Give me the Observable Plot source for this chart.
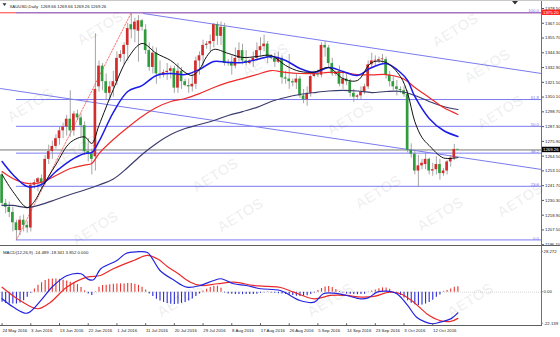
<!DOCTYPE html>
<html><head><meta charset="utf-8">
<script src="https://cdn.jsdelivr.net/npm/d3@7"></script>
<script src="https://cdn.jsdelivr.net/npm/@observablehq/plot@0.6"></script>
<style>
body{margin:0;background:#fff}
#wrap{position:relative;width:560px;height:337px;overflow:hidden;background:#fff;font-family:"Liberation Sans",Arial,sans-serif}
#wrap svg{position:absolute;left:0}
.ln{position:absolute;background:#707070}
</style></head><body><div id="wrap"></div>
<script>
// ---------- DATA ----------
const open = [1250,1228,1225,1221,1213,1207,1215,1211,1209,1242, 1244,1247,1244,1262,1268,1272,1278,1284,1287,1293,
 1284,1297,1294,1288,1268,1266,1264,1318,1334,1322, 1313,1318,1322,1340,1343,1350,1366,1362,1361,1369,
 1362,1346,1333,1344,1328,1327,1329,1330,1332,1317, 1330,1322,1319,1318,1320,1338,1342,1350,1351,1353,
 1366,1357,1364,1336,1337,1334,1340,1346,1338,1336, 1338,1340,1346,1349,1351,1341,1340,1337,1340,1325,
 1324,1322,1321,1324,1311,1308,1313,1326,1328,1327, 1350,1348,1336,1328,1330,1320,1324,1322,1313,1310,
 1311,1314,1318,1335,1338,1338,1339,1339,1327,1322, 1318,1316,1315,1312,1269,1266,1253,1257,1258,1262,
 1253,1254,1258,1251,1253,1260,1263,1269.66];
const high = [1252,1231,1229,1225,1215,1218,1219,1214,1244,1246, 1248,1250,1265,1273,1276,1281,1287,1290,1296,1315,
 1299,1300,1297,1291,1278,1270,1359,1338,1336,1328, 1322,1330,1345,1346,1352,1367,1375.2,1371,1373,1370,
 1366,1352,1349,1348,1338,1331,1336,1334,1334,1336, 1333,1324,1324,1328,1341,1345,1354,1353,1358,1367,
 1368,1368,1367,1339,1342,1348,1352,1351,1346,1339, 1345,1352,1356,1358,1353,1343,1344,1345,1342,1330,
 1343,1324,1328,1326,1316,1318,1328,1330,1331,1352, 1353,1350,1340,1330,1334,1330,1328,1324,1316,1312,
 1318,1320,1338,1344,1342,1341,1343,1341,1330,1326, 1323,1318,1318,1315,1274,1269,1265,1262,1267,1263,
 1259,1264,1262,1255,1261,1265,1273.5,1269.66];
const low = [1226,1220,1217,1206,1199.8,1203,1206,1205,1206,1239, 1237,1239,1242,1258,1262,1270,1273,1278,1280,1279,
 1280,1292,1279,1265,1260,1250,1253,1314,1315,1308, 1307,1310,1319,1337,1335,1338,1355,1352,1337,1361,
 1343,1330,1328,1320,1324,1325,1323,1324,1313,1313, 1316,1318,1313,1314,1316,1327,1332,1347,1345,1348,
 1350,1350,1334,1334,1327,1332,1337,1335,1334,1335, 1333,1338,1341,1345,1336,1339,1333,1336,1320,1320,
 1316,1318,1316,1309,1305,1303,1310,1325,1325,1325, 1341,1333,1326,1326,1318,1316,1319,1310,1306,1308,
 1308,1312,1316,1332,1334,1336,1335,1324,1318,1315, 1311,1313,1310,1267,1263,1250,1240.5,1254,1254,1250,
 1249,1250,1246,1249,1250,1256,1261,1269.26];
const close = [1228,1225,1221,1213,1207,1215,1211,1209,1242,1244, 1247,1244,1262,1268,1272,1278,1284,1287,1293,1284,
 1297,1294,1288,1268,1266,1262,1316,1334,1322,1313, 1318,1322,1340,1343,1350,1363,1362,1368,1369,1364,
 1346,1333,1344,1328,1327,1329,1330,1332,1317,1330, 1322,1319,1318,1320,1338,1342,1350,1351,1353,1366,
 1357,1364,1336,1337,1334,1340,1346,1338,1336,1338, 1340,1346,1349,1351,1341,1340,1337,1340,1325,1324,
 1322,1321,1324,1311,1308,1313,1326,1328,1327,1350, 1348,1336,1328,1328,1320,1324,1322,1313,1310,1311,
 1314,1318,1335,1338,1338.5,1339,1339.5,1327,1322,1318, 1316,1315,1312,1269,1266,1253,1257,1259,1262,1253,
 1254,1258,1251,1253,1260,1263,1269.66,1269.26];

// moving averages (bar index, price)
const maFastIdx = [1,4,8,10,12,16,20,24,26,28,32,36,40,44,48,52,54,56,58,60,64,68,72,76,80,84,88,92,96,100,104,108,112,114,116,118,120,124,128];
const maFast = [1250.3,1237.2,1224.8,1229.5,1239.5,1258.0,1275.0,1279.3,1274.3,1288.2,1316.0,1339.9,1351.5,1343.8,1338.3,1329.1,1326.8,1331.4,1341.4,1346.9,1343.8,1340.7,1341.4,1342.2,1334.5,1329.9,1329.5,1332.9,1324.4,1322.9,1336.8,1336.8,1325.9,1312.9,1291.2,1278.9,1272.7,1263.1,1263.4];
const maMidIdx = [1,4,8,12,16,20,24,26,28,32,36,40,44,48,52,56,60,64,68,72,76,80,84,88,92,96,100,104,108,112,114,116,120,124,128];
const maMid = [1260.3,1250.3,1241.0,1242.6,1252.6,1261.1,1266.5,1267.3,1275.8,1298.2,1314.4,1319.0,1326.8,1328.3,1327.5,1331.4,1337.6,1336.8,1336.8,1339.1,1341.4,1338.3,1332.2,1329.1,1332.9,1329.9,1326.8,1332.9,1336.0,1329.1,1322.9,1310.6,1293.6,1284.3,1279.7];
const maSlowIdx = [1,4,8,12,16,20,24,26,28,32,36,40,44,48,52,56,60,64,68,72,76,80,84,88,92,96,100,104,108,112,114,116,120,124,128];
const maSlow = [1252.6,1247.2,1243.4,1244.2,1249.5,1254.9,1257.6,1258.8,1266.5,1277.3,1286.6,1295.1,1302.0,1306.7,1309.0,1312.8,1317.5,1321.4,1324.4,1327.5,1330.6,1329.1,1328.3,1328.3,1329.1,1329.1,1327.5,1327.2,1327.5,1325.2,1322.1,1317.5,1309.8,1302.0,1296.7];
const maLongIdx = [1,4,8,12,16,20,24,28,32,36,40,44,48,52,56,60,64,68,72,76,80,84,88,92,96,100,104,108,112,116,120,124,128];
const maLong = [1226.4,1226.4,1224.8,1227.2,1231.0,1234.9,1238.3,1242.2,1246.8,1255.7,1265.8,1274.3,1281.2,1285.8,1288.9,1292.0,1295.9,1298.9,1302.1,1306.7,1309.8,1312.1,1313.6,1314.8,1315.2,1314.8,1313.6,1314.4,1314.4,1311.3,1306.7,1302.8,1300.5];

// drawn objects
const fibLabels = ["0.0","23.6","38.2","50.0","61.8","100.0"];
const fibPrices = [1199.8,1241.2,1266.8,1287.5,1308.2,1375.2];
const fibStartBar = 5;
const resistance = 1375.2;
const bid = 1269.26;
const channelUpperBars = [40.4,151.3], channelUpperPrices = [1374.6,1328.3];
const channelLowerBars = [0.56,151.3], channelLowerPrices = [1316.7,1254.2];
const fibBaseBars = [5,37], fibBasePrices = [1199.8,1375.2];

// MACD(12,26,9)
const hist = [-7.0,-8.0,-8.2,-8.2,-8.2,-7.5,-6.0,-3.5,-0.8,2.3, 4.9,6.6,8.2,9.0,9.3,9.3,9.0,8.3,7.8,7.0,
 6.3,5.3,3.3,1.0,-1.2,-2.3,0.3,3.5,4.7,4.8, 5.2,5.5,5.8,5.8,5.8,6.0,6.0,5.5,4.8,3.5,
 1.6,-1.2,-3.0,-4.9,-6.2,-7.2,-8.0,-8.4,-8.6,-8.4, -7.8,-7.2,-6.1,-4.7,-3.0,-1.2,0.8,2.0,3.3,4.2,
 4.2,2.8,-0.5,-1.2,-1.5,-1.6,-1.7,-1.7,-1.7,-1.7, -1.6,-1.4,-0.8,-0.4,0.3,-0.5,-0.8,-1.1,-1.2,-1.6,
 -2.1,-2.4,-2.8,-3.0,-2.9,-2.5,-1.7,-0.5,1.2,2.6, 3.7,4.0,3.2,1.8,0.5,-0.6,-1.2,-1.5,-1.7,-1.8,
 -1.7,-1.4,-0.3,0.8,1.5,2.4,3.0,3.0,2.0,-0.4, -1.6,-2.3,-4.0,-6.0,-7.8,-8.8,-9.3,-8.9,-8.2,-7.2,
 -5.6,-3.5,-2.0,0.5,1.2,2.3,3.5,3.852];
const macdIdx = [1,4,8,12,15,19,23,25,26.5,28.5,33,35.5,38.5,41.5,43,45,49,52.5,56,60,62,65.5,69,73,78.5,84,88,90.5,93.5,97,101,103,105.5,108,111,114,116.5,119,121,123,126,128];
const macdVal = [-4.6,-10.2,-14.7,-5.2,3.8,11.5,12.9,9.0,8.7,16.4,22.2,27.1,28.27,27.8,23.0,15.2,8.2,3.5,4.5,8.2,9.4,5.9,4.7,2.4,1.2,-5.8,-7.0,-1.1,-0.7,-2.3,-4.7,-4.0,0,0.7,-1.1,-9.3,-17.5,-21.0,-22.1,-21.0,-18.7,-14.489];
const sigIdx = [1,6,11,14.5,19,24.7,28.4,32,37.7,41.5,44.5,47,50,53.5,56.3,61,65.6,71,75,78.6,82.3,88,92.5,97,101,104.6,109,112,115.7,119.4,123,126,128];
const sigVal = [3.5,-5.8,-11.6,-7.0,3.5,10.5,11.7,16.4,22.2,25.7,23.0,18.0,13.0,7.0,4.7,5.9,7.0,4.7,4.0,3.3,0,-4.7,-2.3,-2.3,-3.5,-3.0,0,-1.1,-7.0,-15.2,-19.8,-20.5,-18.341];

// axes
const priceTicks = [1196.10,1207.50,1218.90,1230.30,1241.70,1253.10,1264.50,1275.90,1287.30,1298.70,1310.10,1321.50,1332.90,1344.30,1355.70,1367.10,1378.50];
const macdTicks = [28.272,0,-22.139];
const macdTickLabels = ["28.272","0.00","-22.139"];
const dateTickBars = [1,9,17,25,33,41,49,57,65,73,81,89,97,105,113,121];
const dateTickLabels = ["24 May 2016","3 Jun 2016","13 Jun 2016","22 Jun 2016","1 Jul 2016","11 Jul 2016","20 Jul 2016","29 Jul 2016","8 Aug 2016","17 Aug 2016","26 Aug 2016","5 Sep 2016","14 Sep 2016","23 Sep 2016","3 Oct 2016","12 Oct 2016"];
const headerText = "XAUUSD,Daily  1269.66 1269.66 1269.26 1269.26";
const macdHeader = "MACD(12,26,9) -14.489 -18.341 3.852 0.000";
const watermarkText = "AETOS";

// ---------- DRAW ----------
const wrap = document.getElementById("wrap");
const X_DOMAIN = [0.5573, 151.30];
const RED = "#d42b2b", GREEN = "#2f9d3b", WICK = "#8f8f8f", FIB = "#7b7bf0";
const FONT = "'Liberation Sans', Arial, sans-serif";
const bars = open.map((o, k) => {
  const c = close[k]; let top = Math.max(o, c), bot = Math.min(o, c);
  if (top - bot < 0.6) { const m = (top + bot) / 2; top = m + 0.3; bot = m - 0.3; }
  return {i: k + 1, o, h: high[k], l: low[k], c, top, bot, up: c >= o};
});
const pts = (idx, vals) => idx.map((i, k) => ({i, v: vals[k]}));
const fibRows = fibPrices.map((p, k) => ({p, label: fibLabels[k]}));
const style = {background: "transparent", fontFamily: FONT, fontSize: "4.3px", color: "#222", overflow: "visible"};

const main = Plot.plot({
  width: 560, height: 246, marginLeft: 0, marginRight: 19, marginTop: 8, marginBottom: 1.8,
  x: {domain: X_DOMAIN, axis: null},
  y: {domain: [1196.1, 1378.5], axis: null},
  style,
  marks: [
    Plot.ruleY([resistance], {stroke: "#ff3a3a", strokeWidth: 1}),
    Plot.ruleY(fibRows, {y: "p", x1: fibStartBar, x2: X_DOMAIN[1], stroke: FIB, strokeWidth: 1}),
    Plot.text(fibRows, {x: X_DOMAIN[1], y: "p", text: "label", textAnchor: "end", lineAnchor: "bottom", dx: -2.5, dy: -0.3, fill: FIB, fontSize: 4.3}),
    Plot.ruleY([bid], {stroke: "#777", strokeWidth: 1}),
    Plot.line(pts(channelUpperBars, channelUpperPrices), {x: "i", y: "v", stroke: FIB, strokeWidth: 1}),
    Plot.line(pts(channelLowerBars, channelLowerPrices), {x: "i", y: "v", stroke: FIB, strokeWidth: 1}),
    Plot.line(pts(fibBaseBars, fibBasePrices), {x: "i", y: "v", stroke: "#ff4a4a", strokeWidth: 0.8, strokeDasharray: "1.5,1.5"}),
    Plot.ruleX(bars, {x: "i", y1: "l", y2: "h", stroke: WICK, strokeWidth: 0.8}),
    Plot.rect(bars, {x1: d => d.i - 0.37, x2: d => d.i + 0.37, y1: "bot", y2: "top", fill: d => d.up ? RED : GREEN}),
    Plot.line(pts(maLongIdx, maLong), {x: "i", y: "v", stroke: "#3c3c6e", strokeWidth: 1.2, curve: "catmull-rom"}),
    Plot.line(pts(maSlowIdx, maSlow), {x: "i", y: "v", stroke: "#ee2a2a", strokeWidth: 1.2, curve: "catmull-rom"}),
    Plot.line(pts(maMidIdx, maMid), {x: "i", y: "v", stroke: "#1c1ce8", strokeWidth: 1.5, curve: "catmull-rom"}),
    Plot.line(pts(maFastIdx, maFast), {x: "i", y: "v", stroke: "#111", strokeWidth: 1, curve: "catmull-rom"}),
    Plot.axisY(priceTicks, {anchor: "right", label: null, tickFormat: d => d.toFixed(2), tickSize: 2, tickPadding: 1.5, fontSize: 4.3, stroke: "#555"}),
    Plot.text([headerText], {frameAnchor: "top-left", dx: 9, dy: -3.5, text: d => d, fontSize: 4.3, fill: "#222", textAnchor: "start"})
  ]
});
main.style.top = "0px";
wrap.appendChild(main);

// axis price tags (positions from the plot's own y scale)
{
  const ys = main.scale("y");
  const svg = d3.select(main);
  const tag = (v, bg, txt) => {
    const py = ys.apply(v);
    svg.append("rect").attr("x", 541.5).attr("y", py - 2.7).attr("width", 18.5).attr("height", 5.4).attr("fill", bg);
    svg.append("text").attr("x", 543).attr("y", py).attr("dy", "0.35em").attr("fill", "#fff").attr("text-anchor", "start")
      .attr("font-size", 4.3).attr("font-family", FONT).text(txt);
  };
  tag(resistance, "#ff2020", resistance.toFixed(2));
  tag(bid, "#000", bid.toFixed(2));
  svg.append("path").attr("d", "M2.5,3.2 L6.5,3.2 L4.5,6 Z").attr("fill", "#333");
  svg.append("path").attr("d", "M512,1 L518,1 L515,4.5 Z").attr("fill", "#333");
}

const histRows = hist.map((v, k) => ({i: k + 1, v}));
const macd = Plot.plot({
  width: 560, height: 91, marginLeft: 0, marginRight: 19, marginTop: 5.3, marginBottom: 13.7,
  x: {domain: X_DOMAIN, axis: null},
  y: {domain: [-22.139, 28.272], axis: null},
  style,
  marks: [
    Plot.ruleY([0], {stroke: "#b8b8b8", strokeDasharray: "1,1", strokeWidth: 0.6}),
    Plot.ruleX(histRows, {x: "i", y1: 0, y2: "v", stroke: d => d.v >= 0 ? "#e8352f" : "#2b2bd6", strokeWidth: 1.1}),
    Plot.line(pts(sigIdx, sigVal), {x: "i", y: "v", stroke: "#ea2b2b", strokeWidth: 1.2, curve: "catmull-rom"}),
    Plot.line(pts(macdIdx, macdVal), {x: "i", y: "v", stroke: "#2424e0", strokeWidth: 1.2, curve: "catmull-rom"}),
    Plot.axisX(dateTickBars, {anchor: "bottom", tickFormat: () => "", tickSize: 2, stroke: "#555", label: null}),
    Plot.text(dateTickBars, {x: d => d, text: (d, k) => dateTickLabels[k], frameAnchor: "bottom", textAnchor: "start", dy: 7.8, dx: 0.3, fontSize: 4.3, fill: "#222"}),
    Plot.text([macdHeader], {frameAnchor: "top-left", dx: 2.5, dy: -0.8, text: d => d, fontSize: 4.3, fill: "#222", textAnchor: "start"})
  ]
});
macd.style.top = "246px";
wrap.appendChild(macd);
{
  const ys = macd.scale("y");
  const svg = d3.select(macd);
  macdTicks.forEach((v, k) => {
    const py = Math.max(1.5, ys.apply(v));
    svg.append("line").attr("x1", 541).attr("x2", 543).attr("y1", py).attr("y2", py).attr("stroke", "#555").attr("stroke-width", 0.6);
    svg.append("text").attr("x", 543.5).attr("y", py).attr("dy", "0.35em").attr("fill", "#222").attr("text-anchor", "start")
      .attr("font-size", 4.3).attr("font-family", FONT).text(macdTickLabels[k]);
  });
}

// frame lines
const addLine = (l, t, w, h, c) => { const d = document.createElement("div"); d.className = "ln";
  Object.assign(d.style, {left: l + "px", top: t + "px", width: w + "px", height: h + "px", background: c || "#707070"}); wrap.appendChild(d); };
addLine(541, 0, 1, 325);
addLine(0, 245.3, 560, 1, "#606060");
addLine(0, 324.8, 542, 1, "#606060");
addLine(0, 0, 560, 1, "#c8c8c8");

// watermark
{
  const wm = d3.select(wrap).append("svg").attr("width", 560).attr("height", 337).style("top", "0px").style("pointer-events", "none");
  const spots = [[100,28],[30,105],[75,152],[95,228],[215,175],[240,215],[265,60],[350,118],[378,192],[455,30],[487,66],[500,112],[440,214],[520,200],[330,300],[180,300],[470,300]];
  spots.forEach(([x, y]) => wm.append("text").attr("transform", `translate(${x},${y}) rotate(-32)`)
    .attr("text-anchor", "middle").attr("dy", "0.35em").attr("font-size", 15).attr("font-weight", "bold")
    .attr("font-family", FONT).attr("fill", "#000").attr("fill-opacity", 0.06).text(watermarkText));
}
</script></body></html>
